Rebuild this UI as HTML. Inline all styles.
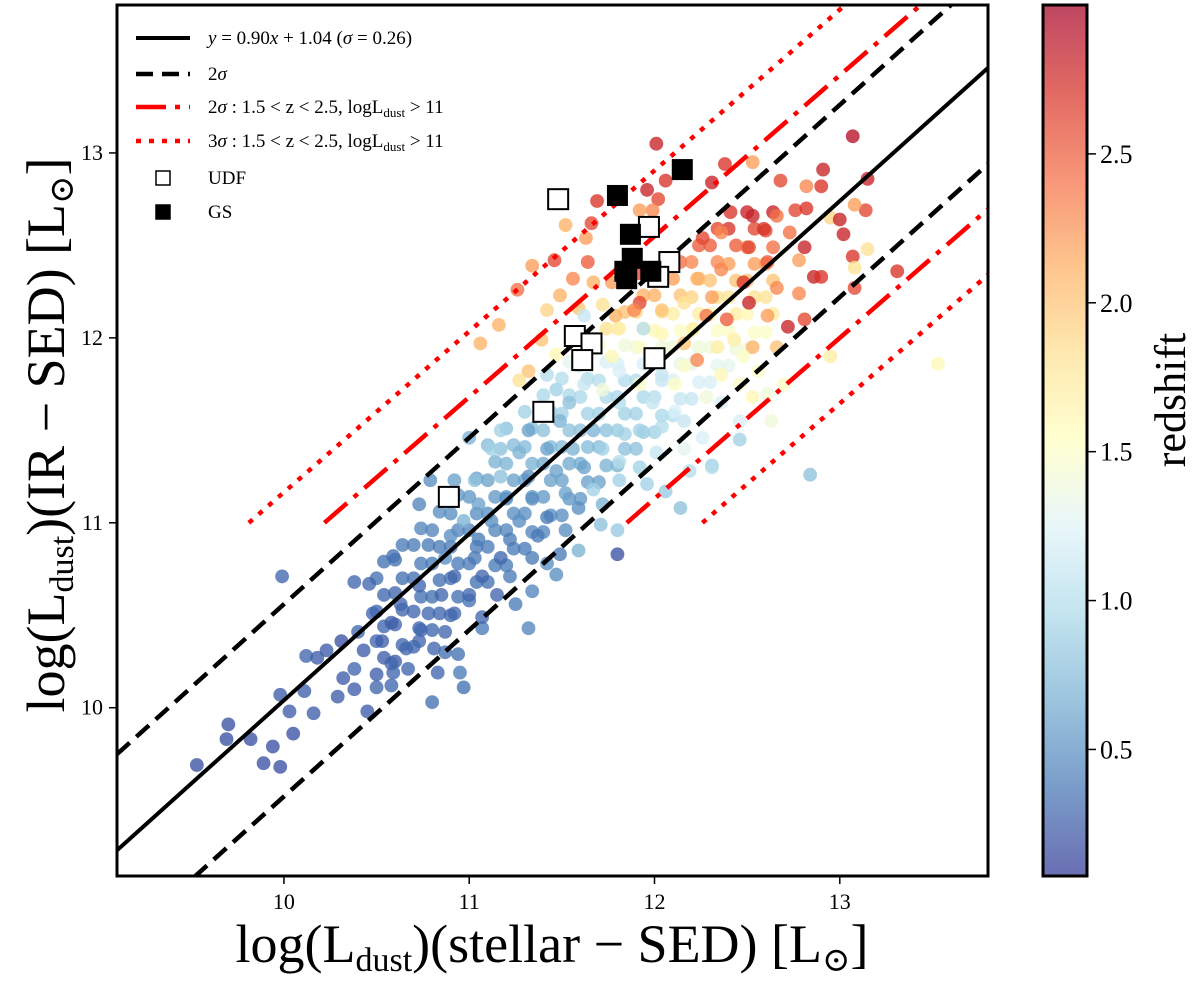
<!DOCTYPE html>
<html><head><meta charset="utf-8">
<style>
html,body{margin:0;padding:0;background:#fff;}
svg{display:block;font-family:"Liberation Serif","DejaVu Serif",serif;}
</style></head>
<body>
<svg id="chart" width="1200" height="982" viewBox="0 0 1200 982" xmlns="http://www.w3.org/2000/svg">
<defs>
<clipPath id="plotclip"><rect x="117" y="5" width="871" height="871"/></clipPath>
<linearGradient id="cbgrad" x1="0" y1="1" x2="0" y2="0">
<stop offset="0" stop-color="#313695"/><stop offset="0.1" stop-color="#4575b4"/><stop offset="0.2" stop-color="#74add1"/><stop offset="0.3" stop-color="#abd9e9"/><stop offset="0.4" stop-color="#e0f3f8"/><stop offset="0.5" stop-color="#ffffbf"/><stop offset="0.6" stop-color="#fee090"/><stop offset="0.7" stop-color="#fdae61"/><stop offset="0.8" stop-color="#f46d43"/><stop offset="0.9" stop-color="#d73027"/><stop offset="1" stop-color="#a50026"/>
</linearGradient>
</defs>
<g id="points" clip-path="url(#plotclip)"></g>
<g id="lines" clip-path="url(#plotclip)"></g>
<g id="markers"></g>
<rect x="117" y="5" width="871" height="871" fill="none" stroke="#000" stroke-width="3"/>
<g id="axes"></g>
<g id="legend"></g>
<rect x="1043" y="5" width="44" height="871" fill="url(#cbgrad)" fill-opacity="0.72" stroke="#000" stroke-width="3"/>
<g id="cbaxis"></g>
<text x="552" y="962" font-size="54" text-anchor="middle">log(L<tspan font-size="34" dy="9">dust</tspan><tspan dy="-9">)(stellar − SED) [L</tspan><tspan font-size="34" dy="9">⊙</tspan><tspan dy="-9">]</tspan></text>
<text transform="translate(64,435) rotate(-90)" font-size="54" text-anchor="middle">log(L<tspan font-size="34" dy="9">dust</tspan><tspan dy="-9">)(IR − SED) [L</tspan><tspan font-size="34" dy="9">⊙</tspan><tspan dy="-9">]</tspan></text>
<text transform="translate(1185,400) rotate(-90)" font-size="44" text-anchor="middle">redshift</text>
</svg>
<script>
const xTicks=[10,11,12,13];
const yTicks=[10,11,12,13];
const zTicks=[0.5,1.0,1.5,2.0,2.5];
const fitSlope=0.90, fitIntercept=1.04, fitSigma=0.26;
const redSlope=0.87, redIntercept=1.40, redSigma=0.355, redYmin=11;
const xs=[9.53,9.69,9.70,9.82,9.89,9.98,9.94,10.03,10.05,9.98,9.99,10.16,10.11,10.12,10.18,10.23,10.29,10.32,10.38,10.38,10.45,10.50,10.58,10.59,10.67,10.80,10.81,10.66,10.73,10.87,10.94,10.97,11.07,11.32,11.25,11.34,11.47,11.42,11.80,11.59,11.71,11.80,12.14,12.31,12.84,12.46,11.96,12.06,10.38,10.46,10.59,10.79,10.73,10.92,11.00,11.17,
11.06,11.16,11.26,11.34,11.46,11.52,11.63,11.64,11.69,11.66,12.01,12.06,11.96,12.02,11.99,11.92,12.31,12.38,12.53,12.68,12.91,12.90,13.15,13.07,12.82,12.41,12.53,12.66,12.76,12.82,12.95,13.0,13.14,13.08,13.02,13.15,13.07,13.08,12.86,12.90,13.08,12.72,12.95,13.31,12.26,12.36,12.59,12.73,12.51,12.81,12.78,12.61,12.36,12.23,12.48,12.66,12.31,12.51,12.39,12.61,12.16,12.04,11.92,11.89,12.21,12.43,12.53,12.23,12.36,12.56,12.11,12.28,12.53,12.70,12.46,12.63,12.26,
11.92,11.77,11.67,11.56,11.49,11.42,11.59,11.72,11.62,11.79,11.81,11.94,12.04,11.92,11.77,11.81,11.92,11.47,11.39,11.32,11.27,11.42,11.47,11.62,11.72,11.81,11.99,12.11,12.04,11.92,11.67,11.54,11.49,11.32,11.17,11.12,11.27,11.42,11.56,11.72,11.81,12.01,12.16,11.62,11.47,11.32,11.17,11.03,11.05,11.20,11.34,11.52,11.67,11.72,11.59,11.42,11.27,11.12,10.97,10.90,11.05,11.22,11.37,11.52,11.49,11.34,11.17,11.03,10.87,10.78,10.92,11.07,11.22,11.15,11.00,10.85,10.73,10.63,10.78,10.92,11.07,10.87,10.73,10.58,10.48,10.53,10.40,10.31,10.43,10.58,10.95,10.83,
11.59,12.16,12.04,12.34,12.16,12.28,12.48,12.66,12.81,12.61,12.36,12.16,11.84,11.92,12.19,12.31,11.81,12.46,12.78,13.53];
const ys=[9.69,9.83,9.91,9.83,9.70,9.68,9.79,9.98,9.86,10.07,10.71,9.97,10.09,10.28,10.27,10.31,10.06,10.16,10.21,10.10,9.98,10.11,10.12,10.19,10.21,10.03,10.32,10.32,10.36,10.30,10.29,10.11,10.43,10.43,10.56,10.63,10.72,10.78,10.83,10.85,10.99,10.96,11.08,11.31,11.26,11.45,11.21,11.17,10.68,10.67,10.82,11.23,11.10,11.23,11.46,11.40,
11.97,12.07,12.26,12.39,12.42,12.61,12.54,12.41,12.74,12.62,13.05,12.85,12.80,12.75,12.69,12.69,12.84,12.94,12.95,12.85,12.91,12.82,12.86,13.09,12.82,12.68,12.66,12.66,12.69,12.70,12.65,12.64,12.69,12.72,12.56,12.48,12.44,12.38,12.33,12.33,12.27,12.06,11.90,12.36,12.54,12.57,12.59,12.57,12.49,12.49,12.42,12.41,12.37,12.32,12.30,12.27,12.22,12.19,12.10,12.12,12.19,12.15,12.19,12.15,12.05,11.99,11.95,11.88,11.80,11.82,11.75,11.68,11.68,11.75,11.55,11.55,11.46,
12.35,12.30,12.30,12.32,12.23,12.15,12.16,12.18,12.12,12.12,12.05,12.05,12.02,11.95,11.90,11.82,11.75,11.91,11.99,11.82,11.77,11.80,11.72,11.75,11.72,11.65,11.65,11.60,11.52,11.50,11.50,11.65,11.55,11.50,11.50,11.40,11.38,11.40,11.40,11.40,11.33,11.38,11.40,11.30,11.28,11.25,11.25,11.23,11.10,11.13,11.13,11.16,11.18,11.10,11.08,11.03,11.01,11.01,11.01,10.93,10.91,10.91,10.93,10.96,10.83,10.81,10.81,10.81,10.81,10.88,10.71,10.71,10.71,10.61,10.61,10.61,10.66,10.56,10.51,10.51,10.49,10.41,10.43,10.46,10.51,10.36,10.41,10.36,10.31,10.24,10.19,10.19,
11.85,11.85,11.80,11.95,11.97,12.12,11.90,11.95,12.10,11.70,11.65,11.55,11.48,11.30,11.28,11.30,11.23,11.75,12.24,11.86];
const zs=[0.2,0.2,0.2,0.2,0.2,0.2,0.2,0.25,0.2,0.25,0.3,0.25,0.25,0.3,0.25,0.25,0.25,0.25,0.3,0.25,0.25,0.3,0.3,0.3,0.3,0.35,0.3,0.3,0.3,0.35,0.35,0.35,0.4,0.45,0.4,0.45,0.5,0.5,0.2,0.7,0.8,0.85,0.8,0.9,0.8,0.9,0.9,0.85,0.3,0.3,0.35,0.5,0.45,0.6,0.7,0.8,
2.1,2.1,2.4,2.2,2.6,2.1,2.2,2.5,2.7,2.6,2.8,2.7,2.8,2.6,2.3,2.2,2.8,2.7,2.2,2.6,2.8,2.7,2.8,2.9,2.3,2.7,2.8,2.4,2.6,2.7,1.9,2.8,2.6,2.2,2.8,1.8,2.7,1.8,2.8,2.7,2.6,2.8,1.7,2.7,2.6,2.3,2.7,2.4,2.6,2.8,2.2,2.5,2.3,2.1,2.7,2.3,2.2,2.8,2.5,2.2,1.8,2.0,2.6,2.3,1.7,1.7,2.1,2.3,1.6,1.5,1.5,1.4,1.6,1.5,1.2,1.4,1.2,
2.6,2.2,2.1,2.3,2.1,1.9,2.0,1.8,1.1,2.1,1.7,1.0,1.6,1.5,1.6,1.2,1.5,1.6,2.0,2.0,1.8,1.0,0.9,1.1,1.4,1.0,1.1,1.2,1.0,0.9,0.7,0.8,0.7,0.6,0.9,0.9,0.7,0.6,0.7,0.9,1.0,1.1,1.3,0.6,0.6,0.5,0.8,0.8,0.6,0.5,0.5,0.6,0.9,0.7,0.5,0.4,0.5,0.5,0.7,0.5,0.4,0.4,0.4,0.5,0.4,0.4,0.3,0.4,0.5,0.4,0.3,0.3,0.4,0.3,0.3,0.3,0.3,0.3,0.3,0.3,0.3,0.3,0.3,0.25,0.3,0.25,0.3,0.2,0.25,0.3,0.4,0.3,
1.0,1.5,1.1,1.7,2.0,2.4,1.5,2.0,2.6,1.4,1.2,1.1,0.9,0.9,1.0,1.0,0.9,1.5,2.3,1.6];
// dense core of the cloud
const coreX=[10.50,10.54,10.50,10.54,10.50,10.54,10.50,10.54,
10.60,10.64,10.60,10.64,10.60,10.64,10.60,10.64,
10.70,10.74,10.70,10.74,10.70,10.74,10.70,10.74,
10.80,10.84,10.80,10.84,10.80,10.84,10.80,10.84,
10.90,10.94,10.90,10.94,10.90,10.94,10.90,10.94,
11.00,11.04,11.00,11.04,11.00,11.04,11.00,11.04,
11.10,11.14,11.10,11.14,11.10,11.14,11.10,11.14,11.10,
11.20,11.24,11.20,11.24,11.20,11.24,11.20,11.24,11.20,
11.30,11.34,11.30,11.34,11.30,11.34,11.30,11.34,11.30,
11.40,11.44,11.40,11.44,11.40,11.44,11.40,11.44,11.40,
11.50,11.54,11.50,11.54,11.50,11.54,11.50,11.54,11.50,11.54,
11.60,11.64,11.60,11.64,11.60,11.64,11.60,11.64,11.60,11.64,
11.70,11.74,11.70,11.74,11.70,11.74,11.70,11.74,11.70,11.74,
11.80,11.84,11.80,11.84,11.80,11.84,11.80,11.84,11.80,11.84,
11.90,11.94,11.90,11.94,11.90,11.94,11.90,11.94,11.90,11.94,
12.00,12.04,12.00,12.04,12.00,12.04,12.00,12.04,12.00,12.04,
12.10,12.14,12.10,12.14,12.10,12.14,12.10,12.14,12.10,12.14,
12.20,12.24,12.20,12.24,12.20,12.24,12.20,12.24,12.20,12.24,
12.30,12.34,12.30,12.34,12.30,12.34,12.30,12.34,12.30,12.34,
12.40,12.44,12.40,12.44,12.40,12.44,12.40,12.44,12.40,
12.50,12.54,12.50,12.54,12.50,12.54,12.50,12.54,12.50,
12.60,12.64,12.60,12.64,12.60,12.64,12.60,12.64];
const coreY=[10.18,10.27,10.36,10.44,10.52,10.61,10.70,10.79,
10.25,10.34,10.45,10.53,10.62,10.70,10.80,10.88,
10.33,10.42,10.52,10.60,10.70,10.78,10.88,10.97,
10.42,10.51,10.60,10.69,10.78,10.87,10.96,11.06,
10.50,10.60,10.70,10.78,10.87,10.96,11.05,11.15,
10.58,10.68,10.78,10.87,10.96,11.05,11.14,11.24,
10.68,10.77,10.87,10.96,11.05,11.14,11.23,11.33,11.42,
10.77,10.86,10.96,11.05,11.14,11.23,11.32,11.42,11.51,
10.86,10.95,11.05,11.14,11.23,11.32,11.41,11.51,11.60,
10.95,11.04,11.14,11.23,11.32,11.41,11.50,11.60,11.69,
11.04,11.13,11.23,11.32,11.41,11.50,11.59,11.69,11.78,11.87,
11.13,11.22,11.32,11.41,11.50,11.59,11.68,11.78,11.87,11.96,
11.22,11.31,11.41,11.50,11.59,11.68,11.77,11.87,11.96,12.05,
11.31,11.40,11.50,11.59,11.68,11.77,11.86,11.96,12.05,12.14,
11.40,11.49,11.59,11.68,11.77,11.86,11.95,12.05,12.14,12.23,
11.49,11.58,11.68,11.77,11.86,11.95,12.04,12.14,12.23,12.32,
11.58,11.67,11.77,11.86,11.95,12.04,12.13,12.23,12.32,12.41,
11.67,11.76,11.86,11.95,12.04,12.13,12.22,12.32,12.41,12.50,
11.76,11.85,11.95,12.04,12.13,12.22,12.31,12.41,12.50,12.59,
11.85,11.94,12.04,12.13,12.22,12.31,12.40,12.50,12.59,
11.94,12.03,12.13,12.22,12.31,12.40,12.49,12.59,12.68,
12.03,12.13,12.22,12.31,12.40,12.49,12.58,12.68];
const coreZ=[0.25,0.25,0.3,0.3,0.3,0.3,0.35,0.35,
0.25,0.3,0.3,0.3,0.3,0.35,0.35,0.4,
0.3,0.3,0.3,0.35,0.35,0.4,0.4,0.45,
0.3,0.3,0.35,0.35,0.4,0.4,0.45,0.5,
0.3,0.35,0.35,0.4,0.4,0.45,0.5,0.55,
0.35,0.35,0.4,0.4,0.45,0.5,0.55,0.6,
0.35,0.4,0.4,0.45,0.5,0.55,0.6,0.7,0.75,
0.4,0.4,0.45,0.5,0.55,0.6,0.7,0.75,0.8,
0.4,0.45,0.5,0.55,0.6,0.7,0.75,0.8,0.9,
0.45,0.5,0.55,0.6,0.65,0.75,0.8,0.9,0.95,
0.5,0.55,0.6,0.65,0.75,0.8,0.9,0.95,1.0,1.3,
0.55,0.6,0.65,0.75,0.8,0.9,0.95,1.0,1.2,1.6,
0.6,0.7,0.75,0.8,0.9,0.95,1.0,1.2,1.5,1.8,
0.7,0.8,0.85,0.9,0.95,1.0,1.2,1.4,1.7,2.0,
0.8,0.85,0.9,0.95,1.0,1.2,1.4,1.6,1.9,2.1,
0.9,0.95,1.0,1.1,1.2,1.4,1.6,1.8,2.1,2.3,
1.0,1.1,1.2,1.3,1.4,1.5,1.7,2.0,2.2,2.4,
1.1,1.2,1.3,1.4,1.5,1.7,1.9,2.1,2.3,2.5,
1.2,1.3,1.4,1.5,1.6,1.8,2.0,2.3,2.5,2.6,
1.3,1.4,1.5,1.7,1.8,2.0,2.2,2.5,2.7,
1.4,1.5,1.6,1.8,2.0,2.2,2.4,2.6,2.8,
1.5,1.7,1.8,2.0,2.2,2.4,2.6,2.8];
const udfX=[11.48,11.97,12.08,12.02,11.57,11.66,11.61,12.00,11.40,10.89];
const udfY=[12.75,12.60,12.41,12.33,12.01,11.97,11.88,11.89,11.60,11.14];
const gsX=[11.80,12.15,11.87,11.88,11.84,11.85,11.98];
const gsY=[12.77,12.91,12.56,12.43,12.36,12.32,12.36];

const X0=117,X1=988,Y0=876,Y1=5;
const xmin=9.099,xmax=13.80,ymin=9.09,ymax=13.8,zmin=0.075,zmax=3.0;
function sx(v){return X0+(v-xmin)/(xmax-xmin)*(X1-X0);}
function sy(v){return Y0-(v-ymin)/(ymax-ymin)*(Y0-Y1);}
function sz(v){return 876-(v-zmin)/(zmax-zmin)*871;}
const NS='http://www.w3.org/2000/svg';
function mk(tag,attrs,parent){const e=document.createElementNS(NS,tag);for(const k in attrs)e.setAttribute(k,attrs[k]);parent.appendChild(e);return e;}
const stops=[[49,54,149],[69,117,180],[116,173,209],[171,217,233],[224,243,248],[255,255,191],[254,224,144],[253,174,97],[244,109,67],[215,48,39],[165,0,38]];
function cmap(z){let t=(z-zmin)/(zmax-zmin);t=Math.max(0,Math.min(1,t))*10;const i=Math.min(9,Math.floor(t)),f=t-i;const a=stops[i],b=stops[i+1];return 'rgb('+a.map((c,k)=>Math.round(c+(b[k]-c)*f)).join(',')+')';}

const gp=document.getElementById('points');
function drawPts(X,Y,Z){
  for(let i=0;i<X.length;i++){
    const c=mk('circle',{cx:sx(X[i]),cy:sy(Y[i]),r:6.9,fill:cmap(Z[i]),'fill-opacity':0.78},gp);
    
    
  }
}
drawPts(coreX,coreY,coreZ);
drawPts(xs,ys,zs);
const gl=document.getElementById('lines');
function fitLine(m,b,ylo,style,name){
  let xa=xmin;
  if(ylo!==null){xa=Math.max(xmin,(ylo-b)/m);}
  const xb=xmax;
  const l=mk('line',Object.assign({x1:sx(xa),y1:sy(m*xa+b),x2:sx(xb),y2:sy(m*xb+b),fill:'none'},style),gl);
  
  
}
const solid={stroke:'#000','stroke-width':4};
const dashed={stroke:'#000','stroke-width':4.5,'stroke-dasharray':'17 9'};
const dashdot={stroke:'#f00','stroke-width':4.5,'stroke-dasharray':'30 9 5 9'};
const dotted={stroke:'#f00','stroke-width':4.5,'stroke-dasharray':'5 8'};
fitLine(fitSlope,fitIntercept,null,solid,'fit-line');
fitLine(fitSlope,fitIntercept+2*fitSigma,null,dashed,'upper-2sigma-line');
fitLine(fitSlope,fitIntercept-2*fitSigma,null,dashed,'lower-2sigma-line');
fitLine(redSlope,redIntercept+2*redSigma,redYmin,dashdot,'upper-red-2sigma-line');
fitLine(redSlope,redIntercept-2*redSigma,redYmin,dashdot,'lower-red-2sigma-line');
fitLine(redSlope,redIntercept+3*redSigma,redYmin,dotted,'upper-red-3sigma-line');
fitLine(redSlope,redIntercept-3*redSigma,redYmin,dotted,'lower-red-3sigma-line');

const gm=document.getElementById('markers');
for(let i=0;i<udfX.length;i++){
  const r=mk('rect',{x:sx(udfX[i])-10,y:sy(udfY[i])-10,width:20,height:20,fill:'#fff',stroke:'#000','stroke-width':2},gm);
  
  
}
for(let i=0;i<gsX.length;i++){
  const r=mk('rect',{x:sx(gsX[i])-10,y:sy(gsY[i])-10,width:20,height:20,fill:'#000',stroke:'#000','stroke-width':1},gm);
  
  
}

const ga=document.getElementById('axes');
xTicks.forEach(v=>{
  const t=mk('line',{x1:sx(v),y1:877,x2:sx(v),y2:884,stroke:'#000','stroke-width':1.5},ga);
  
  
  const lb=mk('text',{x:sx(v),y:909,'font-size':22,'text-anchor':'middle'},ga);
  lb.textContent=v;
  
  
});
yTicks.forEach(v=>{
  const t=mk('line',{x1:109,y1:sy(v),x2:116,y2:sy(v),stroke:'#000','stroke-width':1.5},ga);
  
  
  const lb=mk('text',{x:103,y:sy(v)+7,'font-size':22,'text-anchor':'end'},ga);
  lb.textContent=v;
  
  
});
const gc=document.getElementById('cbaxis');
zTicks.forEach(v=>{
  const t=mk('line',{x1:1088,y1:sz(v),x2:1096,y2:sz(v),stroke:'#000','stroke-width':1.5},gc);
  
  
  const lb=mk('text',{x:1100,y:sz(v)+9,'font-size':26},gc);
  lb.textContent=v.toFixed(1);
  
  
});

const lg=document.getElementById('legend');
const legRows=[
 {y:38,type:'line',style:{stroke:'#000','stroke-width':4},html:'<tspan font-style="italic">y</tspan> = 0.90<tspan font-style="italic">x</tspan> + 1.04 (<tspan font-style="italic">σ</tspan> = 0.26)',name:'legend-fit'},
 {y:74,type:'line',style:{stroke:'#000','stroke-width':4.5,'stroke-dasharray':'17 9'},html:'2<tspan font-style="italic">σ</tspan>',name:'legend-2sigma'},
 {y:107,type:'line',style:{stroke:'#f00','stroke-width':4.5,'stroke-dasharray':'30 9 5 9'},html:'2<tspan font-style="italic">σ</tspan> :  1.5 &lt; z &lt; 2.5, logL<tspan font-size="13" dy="4">dust</tspan><tspan dy="-4"> &gt; 11</tspan>',name:'legend-red-2sigma'},
 {y:141,type:'line',style:{stroke:'#f00','stroke-width':4.5,'stroke-dasharray':'5 8'},html:'3<tspan font-style="italic">σ</tspan> :  1.5 &lt; z &lt; 2.5, logL<tspan font-size="13" dy="4">dust</tspan><tspan dy="-4"> &gt; 11</tspan>',name:'legend-red-3sigma'},
 {y:178,type:'open',html:'UDF',name:'legend-udf'},
 {y:212,type:'filled',html:'GS',name:'legend-gs'}
];
legRows.forEach(r=>{
  const g=document.createElementNS(NS,'g');
  
  
  lg.appendChild(g);
  if(r.type==='line'){mk('line',Object.assign({x1:136,y1:r.y,x2:190,y2:r.y},r.style),g);}
  else{mk('rect',{x:156,y:r.y-7,width:14,height:14,fill:r.type==='open'?'#fff':'#000',stroke:'#000','stroke-width':1.5},g);}
  const t=mk('text',{x:208,y:r.y+6,'font-size':19},g);
  t.innerHTML=r.html;
});
</script>
</body></html>
